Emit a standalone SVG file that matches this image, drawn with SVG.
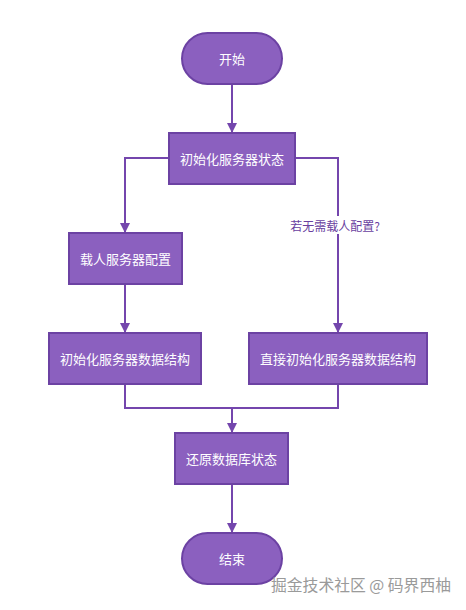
<svg xmlns="http://www.w3.org/2000/svg" width="466" height="610" viewBox="0 0 466 610">
<style>
.n{fill:#8b60bf;stroke:#6c42a3;stroke-width:2}
.t{fill:#ffffff;font-family:"Noto Sans CJK SC",sans-serif;font-size:13px;text-anchor:middle;dominant-baseline:central}
.c{fill:none;stroke:#7446ad;stroke-width:2}
.lb{fill:#6a3f9f;font-family:"Noto Sans CJK SC",sans-serif;font-size:12px;text-anchor:middle;dominant-baseline:central}
.wm{fill:#9a9a9a;font-family:"Noto Sans CJK SC",sans-serif;font-size:15.8px;dominant-baseline:central}
</style>
<defs>
<marker id="a" markerWidth="10" markerHeight="10" refX="9" refY="5" orient="auto" markerUnits="userSpaceOnUse">
<path d="M0,0 L10,5 L0,10 z" fill="#7446ad"/>
</marker>
</defs>
<rect width="466" height="610" fill="#ffffff"/>
<g id="connectors">
<path class="c" d="M232,84 V132" marker-end="url(#a)"/>
<path class="c" d="M169,158 H125 V232" marker-end="url(#a)"/>
<path class="c" d="M295,158 H338 V332" marker-end="url(#a)"/>
<path class="c" d="M125,284 V332" marker-end="url(#a)"/>
<path class="c" d="M125,384 V408 H338 V384"/>
<path class="c" d="M232,408 V432" marker-end="url(#a)"/>
<path class="c" d="M232,484 V532" marker-end="url(#a)"/>
<rect x="285" y="216" width="102" height="18" fill="#ffffff"/>
<text class="lb" x="335" y="225">若无需载人配置?</text>
</g>
<g id="start">
<rect class="n" x="182" y="33" width="100" height="51" rx="25.5"/>
<text class="t" x="232" y="58.5">开始</text>
</g>
<g id="init">
<rect class="n" x="169" y="133" width="126" height="51"/>
<text class="t" x="232" y="158.5">初始化服务器状态</text>
</g>
<g id="load">
<rect class="n" x="69" y="233" width="113" height="51"/>
<text class="t" x="125.5" y="258.5">载人服务器配置</text>
</g>
<g id="initdata">
<rect class="n" x="49" y="333" width="152" height="51"/>
<text class="t" x="125" y="358.5">初始化服务器数据结构</text>
</g>
<g id="directinit">
<rect class="n" x="249" y="333" width="178" height="51"/>
<text class="t" x="338" y="358.5">直接初始化服务器数据结构</text>
</g>
<g id="restore">
<rect class="n" x="175" y="433" width="113" height="51"/>
<text class="t" x="231.5" y="458.5">还原数据库状态</text>
</g>
<g id="end">
<rect class="n" x="182" y="533" width="100" height="51" rx="25.5"/>
<text class="t" x="232" y="558.5">结束</text>
</g>
<text class="wm" x="271" y="584">掘金技术社区 @ 码界西柚</text>
</svg>
